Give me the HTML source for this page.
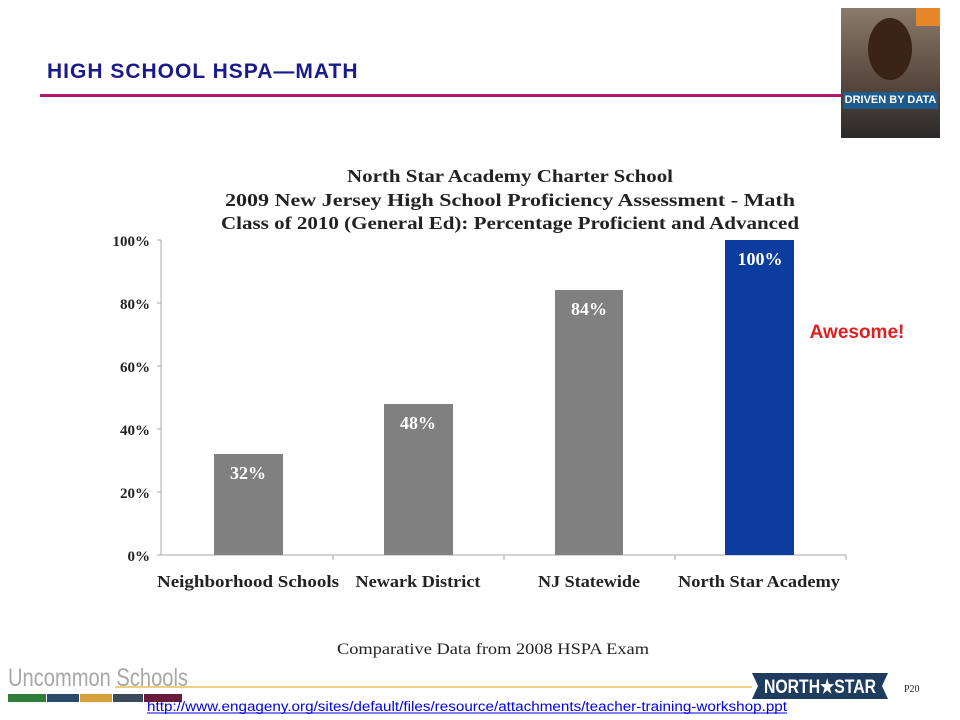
<!DOCTYPE html>
<html><head><style>
body{margin:0;width:960px;height:720px;background:#fff;position:relative;overflow:hidden;font-family:"Liberation Sans",sans-serif}
.a{position:absolute}
</style></head><body>
<div class="a" style="left:47px;top:60px;font-size:21px;font-weight:bold;color:#1a1a8c;letter-spacing:1px">HIGH SCHOOL HSPA—MATH</div>
<div class="a" style="left:40px;top:94px;width:802px;height:3px;background:#b0186a"></div>
<!-- book -->
<div class="a" style="left:841px;top:8px;width:99px;height:130px;background:linear-gradient(#8a7a6a,#5a4a40 55%,#2a2a2a)"></div>
<div class="a" style="left:868px;top:18px;width:44px;height:62px;border-radius:50%;background:#3a2418"></div>
<div class="a" style="left:843px;top:92px;width:95px;height:17px;background:#1e5a8a;color:#fff;font-size:11px;font-weight:bold;text-align:center;line-height:17px;white-space:nowrap">DRIVEN BY DATA</div>
<div class="a" style="left:916px;top:8px;width:24px;height:18px;background:#e8862a"></div>
<svg class="a" style="left:0;top:0" width="960" height="720">
<g font-family="Liberation Serif,serif" font-weight="bold" fill="#222" text-anchor="middle" font-size="18" lengthAdjust="spacingAndGlyphs">
<text x="510" y="182" textLength="326" lengthAdjust="spacingAndGlyphs">North Star Academy Charter School</text>
<text x="510" y="206" textLength="570" lengthAdjust="spacingAndGlyphs">2009 New Jersey High School Proficiency Assessment - Math</text>
<text x="510" y="229" textLength="578" lengthAdjust="spacingAndGlyphs">Class of 2010 (General Ed): Percentage Proficient and Advanced</text>
</g>
<g stroke="#aaa" stroke-width="1">
<line x1="161" y1="240" x2="161" y2="555"/>
<line x1="161" y1="555" x2="846" y2="555"/>
<line x1="157" y1="240" x2="161" y2="240"/><line x1="157" y1="303" x2="161" y2="303"/><line x1="157" y1="366" x2="161" y2="366"/><line x1="157" y1="429" x2="161" y2="429"/><line x1="157" y1="492" x2="161" y2="492"/><line x1="157" y1="555" x2="161" y2="555"/>
<line x1="333" y1="555" x2="333" y2="560"/><line x1="504" y1="555" x2="504" y2="560"/><line x1="675" y1="555" x2="675" y2="560"/><line x1="846" y1="555" x2="846" y2="560"/>
</g>
<g font-family="Liberation Serif,serif" font-weight="bold" fill="#222" font-size="15" text-anchor="end">
<text x="150" y="246">100%</text><text x="150" y="309">80%</text><text x="150" y="372">60%</text><text x="150" y="435">40%</text><text x="150" y="498">20%</text><text x="150" y="561">0%</text>
</g>
<rect x="214" y="454" width="69" height="101" fill="#808080"/>
<rect x="384" y="404" width="69" height="151" fill="#808080"/>
<rect x="555" y="290" width="68" height="265" fill="#808080"/>
<rect x="725" y="240" width="69" height="315" fill="#0b3c9e"/>
<g font-family="Liberation Serif,serif" font-weight="bold" fill="#fff" font-size="18" text-anchor="middle">
<text x="248" y="479">32%</text><text x="418" y="429">48%</text><text x="589" y="315">84%</text><text x="760" y="265">100%</text>
</g>
<g font-family="Liberation Serif,serif" font-weight="bold" fill="#222" font-size="17" text-anchor="middle">
<text x="248" y="587" textLength="182" lengthAdjust="spacingAndGlyphs">Neighborhood Schools</text><text x="418" y="587" textLength="125" lengthAdjust="spacingAndGlyphs">Newark District</text><text x="589" y="587" textLength="102" lengthAdjust="spacingAndGlyphs">NJ Statewide</text><text x="759" y="587" textLength="162" lengthAdjust="spacingAndGlyphs">North Star Academy</text>
</g>
<text x="857" y="338" font-family="Liberation Sans,sans-serif" font-weight="bold" font-size="19" fill="#e02020" text-anchor="middle">Awesome!</text>
<text x="493" y="654" font-family="Liberation Serif,serif" font-size="16" fill="#222" text-anchor="middle" textLength="312" lengthAdjust="spacingAndGlyphs">Comparative Data from 2008 HSPA Exam</text>
<line x1="115" y1="687" x2="752" y2="687" stroke="#f0d080" stroke-width="2"/>
<text x="8" y="686" font-family="Liberation Sans,sans-serif" font-size="25" fill="#a8a8a8" textLength="180" lengthAdjust="spacingAndGlyphs">Uncommon Schools</text>
<rect x="8" y="694" width="38" height="8" fill="#2e7d3a"/><rect x="47" y="694" width="32" height="8" fill="#2a4a6a"/><rect x="80" y="694" width="32" height="8" fill="#d8a040"/><rect x="113" y="694" width="30" height="8" fill="#3a4a5a"/><rect x="144" y="694" width="38" height="8" fill="#6a1a3a"/>
<polygon points="752,673 888,673 882,686 888,699 752,699 758,686" fill="#1d3c5e"/>
<text x="820" y="693" font-family="Liberation Sans,sans-serif" font-weight="bold" font-size="19" fill="#fff" text-anchor="middle" textLength="112" lengthAdjust="spacingAndGlyphs">NORTH★STAR</text>
<text x="904" y="692" font-family="Liberation Serif,serif" font-size="10" fill="#222">P20</text>
<text x="147" y="711" font-family="Liberation Sans,sans-serif" font-size="13.5" fill="#0000ee" textLength="640" lengthAdjust="spacingAndGlyphs">http://www.engageny.org/sites/default/files/resource/attachments/teacher-training-workshop.ppt</text>
<line x1="147" y1="713" x2="787" y2="713" stroke="#0000ee" stroke-width="1"/>
</svg>
</body></html>
